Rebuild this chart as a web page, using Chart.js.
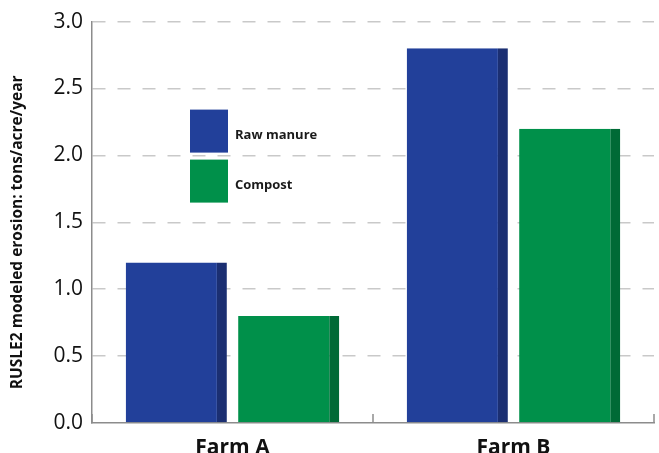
<!DOCTYPE html>
<html>
<head>
<meta charset="utf-8">
<title>RUSLE2 modeled erosion</title>
<script src="https://cdn.jsdelivr.net/npm/chart.js@4.4.1/dist/chart.umd.min.js"></script>
<style>
  html, body { margin: 0; padding: 0; background: #ffffff; }
  canvas { display: block; }
</style>
</head>
<body>
<canvas id="chart" width="659" height="453"></canvas>
<script>
// Erosion estimates (tons/acre/year) per farm and manure treatment
const farms = ['Farm A', 'Farm B'];
const rawManure = [1.2, 2.8];
const compost = [0.8, 2.2];
const yTicks = [0, 0.5, 1.0, 1.5, 2.0, 2.5, 3.0];

const FONT = '"Open Sans", "DejaVu Sans", sans-serif';
const AXIS_GREY = '#8c8c8c';
const TITLE = 'RUSLE2 modeled erosion: tons/acre/year';

// Short inward tick marks at the category boundaries on the x axis
const innerTicks = {
  id: 'innerTicks',
  afterDraw(chart) {
    const x = chart.scales.x;
    const ctx = chart.ctx;
    const n = farms.length;
    const step = (x.right - x.left) / n;
    ctx.save();
    ctx.strokeStyle = AXIS_GREY;
    ctx.lineWidth = 1.5;
    for (let i = 0; i <= n; i++) {
      const px = x.left + i * step;
      ctx.beginPath();
      ctx.moveTo(px, x.top);
      ctx.lineTo(px, x.top - 9);
      ctx.stroke();
    }
    ctx.restore();
  }
};

// Rotated y-axis title, set a little below the plot's vertical middle
const yTitle = {
  id: 'yTitle',
  afterDraw(chart) {
    const area = chart.chartArea;
    const ctx = chart.ctx;
    ctx.save();
    ctx.translate(18, (area.top + area.bottom) / 2 + 10);
    ctx.rotate(-Math.PI / 2);
    ctx.font = 'bold 15.5px ' + FONT;
    ctx.fillStyle = '#111111';
    ctx.textAlign = 'center';
    ctx.textBaseline = 'middle';
    ctx.fillText(TITLE, 0, 0);
    ctx.restore();
  }
};

// Legend with large swatches drawn inside the plot area
const insideLegend = {
  id: 'insideLegend',
  afterDatasetsDraw(chart) {
    const ctx = chart.ctx;
    const area = chart.chartArea;
    const left = area.left + 98;
    let top = area.top + 88;
    const w = 38, h = 43, gap = 7;
    ctx.save();
    ctx.font = 'bold 13px ' + FONT;
    ctx.textBaseline = 'middle';
    ctx.textAlign = 'left';
    chart.data.datasets.forEach(ds => {
      ctx.fillStyle = ds.backgroundColor;
      ctx.fillRect(left, top, w, h);
      ctx.fillStyle = '#1a1a1a';
      ctx.fillText(ds.label, left + w + 7, top + h / 2 + 4);
      top += h + gap;
    });
    ctx.restore();
  }
};

new Chart(document.getElementById('chart'), {
  type: 'bar',
  data: {
    labels: farms,
    datasets: [
      {
        label: 'Raw manure',
        data: rawManure,
        backgroundColor: '#22409a',
        borderColor: '#1b2f72',
        borderWidth: { top: 0, right: 10, bottom: 0, left: 0 },
        borderSkipped: false
      },
      {
        label: 'Compost',
        data: compost,
        backgroundColor: '#00904a',
        borderColor: '#006a36',
        borderWidth: { top: 0, right: 10, bottom: 0, left: 0 },
        borderSkipped: false
      }
    ]
  },
  options: {
    responsive: false,
    animation: false,
    layout: { padding: { top: 20, right: 5, left: 0, bottom: 0 } },
    plugins: {
      legend: { display: false },
      tooltip: { enabled: false }
    },
    scales: {
      x: {
        grid: { display: false },
        border: { display: true, color: AXIS_GREY, width: 1.5 },
        ticks: {
          color: '#111111',
          font: { family: FONT, size: 21, weight: 'bold' },
          padding: 4
        },
        afterFit(scale) { scale.height = 30; }
      },
      y: {
        min: 0,
        max: 3,
        afterBuildTicks(scale) {
          scale.ticks = yTicks.map(v => ({ value: v }));
        },
        ticks: {
          color: '#111111',
          font: { family: FONT, size: 21 },
          padding: 9,
          callback: v => Number(v).toFixed(1)
        },
        grid: {
          drawTicks: false,
          color: ctx => (ctx.tick && ctx.tick.value === 0) ? 'rgba(0,0,0,0)' : '#c9c9c9',
          lineWidth: 1.5
        },
        border: { display: true, color: AXIS_GREY, width: 1.5, dash: [13, 12], dashOffset: 0 },
        afterFit(scale) { scale.width = 92; }
      }
    }
  },
  plugins: [innerTicks, insideLegend, yTitle]
});
</script>
</body>
</html>
